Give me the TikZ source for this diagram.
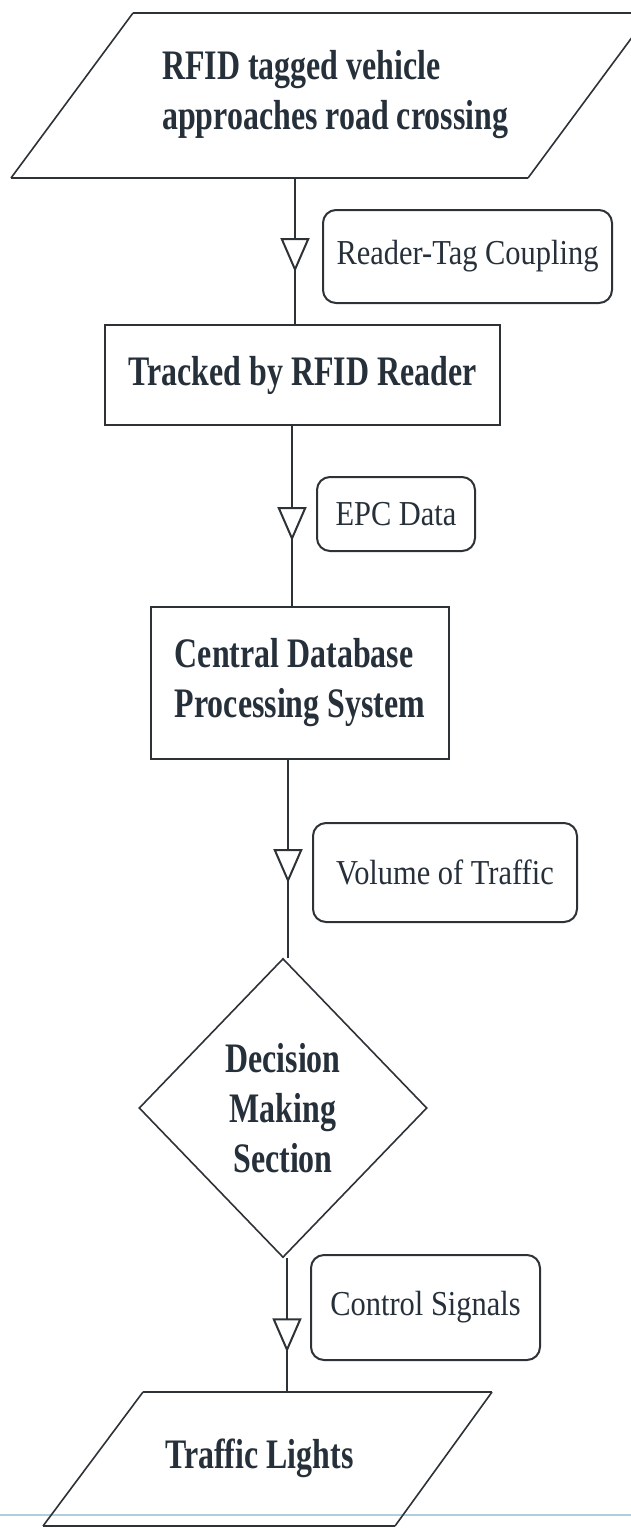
\documentclass[tikz,border=0pt]{standalone}
\usepackage{fontspec}
\setmainfont{Liberation Serif}
\newfontfamily\condbold{Liberation Serif}[FakeStretch=0.76]
\newfontfamily\condreg{Liberation Serif}[FakeStretch=0.87]
\usetikzlibrary{shapes.geometric, arrows.meta, decorations.markings}
\definecolor{linec}{RGB}{45,50,55}
\definecolor{textc}{RGB}{38,48,58}
\definecolor{rulec}{RGB}{178,206,222}

\begin{document}
\begin{tikzpicture}[x=1pt, y=-1pt,
  ink/.style={draw=linec, line width=2pt},
  thinink/.style={draw=linec, line width=1.6pt},
  heading/.style={font=\condbold\bfseries\fontsize{42}{50}\selectfont, text=textc, inner sep=0pt},
  procbox/.style={ink, rectangle, heading},
  tagbox/.style={draw=linec, line width=2pt, rounded corners=13pt, inner sep=0pt,
    font=\condreg\fontsize{35}{40}\selectfont, text=textc},
  decide/.style={thinink, diamond, heading, align=center},
  flow/.style={draw=linec, line width=2pt, postaction={decorate},
    decoration={markings, mark=at position #1 with
      {\arrow{Triangle[length=34pt,width=29pt,fill=white]}}}},
]
\useasboundingbox (0,0) rectangle (631,1528);
\fill[white] (0,0) rectangle (631,1528);

% faint ruled line of the page
\draw[line width=2pt, rulec] (0,1515) -- (631,1515);

% input: vehicle arrives (parallelogram runs past the right edge)
\begin{scope}
  \clip (0,0) rectangle (631,1528);
  \draw[ink] (133,13) -- (650,13);
  \draw[ink] (528,178) -- (11,178);
  \draw[thinink] (650,13) -- (528,178);
  \draw[thinink] (11,178) -- (133,13);
\end{scope}
\node[heading, align=left, anchor=west] (veh) at (162,95)
  {RFID tagged vehicle\\approaches road crossing};
\coordinate (vehS) at (295,178);

% process steps
\node[procbox, minimum width=395pt, minimum height=100pt] (trk) at (302.5,375)
  {Tracked by RFID Reader};
\node[procbox, minimum width=298pt, minimum height=152pt, align=left] (cdb) at (300,683)
  {Central Database\\Processing System};
\node[decide, minimum width=288pt, minimum height=299pt] (dms) at (283,1108)
  {Decision\\Making\\Section};

% output: traffic lights
\draw[ink] (143,1392) -- (492,1392);
\draw[ink] (395,1526) -- (43,1526);
\draw[thinink] (492,1392) -- (395,1526);
\draw[thinink] (43,1526) -- (143,1392);
\node[heading, anchor=west] (tl) at (165,1458) {Traffic Lights};
\coordinate (tlN) at (287,1392);

% data labels on the flow
\node[tagbox, minimum width=289pt, minimum height=93pt] (rtc) at (467.5,256.5) {Reader-Tag Coupling};
\node[tagbox, minimum width=158pt, minimum height=74pt] (epc) at (396,514) {EPC Data};
\node[tagbox, minimum width=264pt, minimum height=99pt] (vot) at (445,872.5) {Volume of Traffic};
\node[tagbox, minimum width=229pt, minimum height=105pt] (csg) at (425.5,1307.5) {Control Signals};

% connectors
\draw[flow=94pt] (vehS) -- (vehS |- trk.north);
\draw[flow=115pt] ([xshift=-10.5pt]trk.south) -- ([xshift=-8pt]cdb.north);
\draw[flow=123pt] ([xshift=-12pt]cdb.south) -- ([xshift=5pt]dms.north);
\draw[flow=94pt] ([xshift=4pt]dms.south) -- (tlN);
\end{tikzpicture}
\end{document}
